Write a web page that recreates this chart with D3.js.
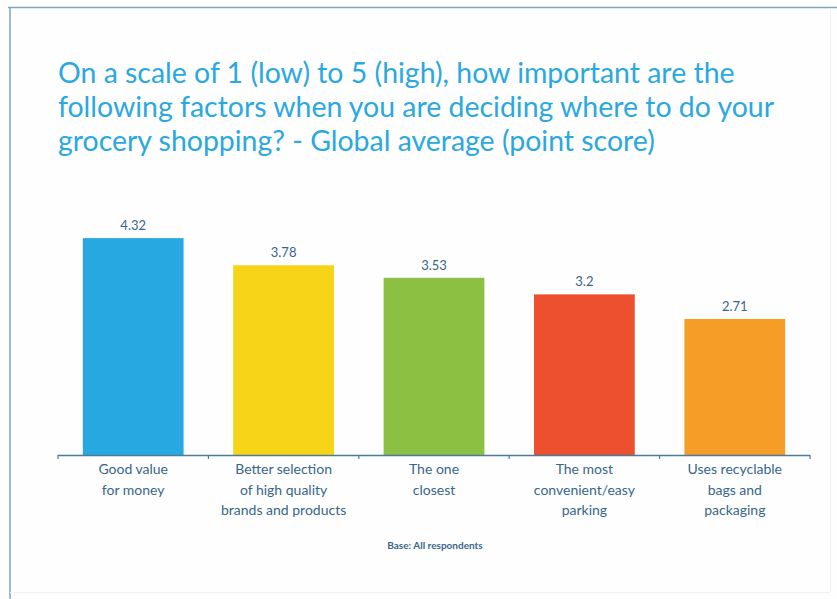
<!DOCTYPE html>
<html><head><meta charset="utf-8">
<script src="https://cdn.jsdelivr.net/npm/d3@7"></script>
<style>body{margin:0;background:#fff}svg{display:block}</style>
</head><body>
<script>
const categories = [
  ["Good value","for money"],
  ["Better selection","of high quality","brands and products"],
  ["The one","closest"],
  ["The most","convenient/easy","parking"],
  ["Uses recyclable","bags and","packaging"]
];
const values = [4.32, 3.78, 3.53, 3.2, 2.71];
const valueLabels = ["4.32","3.78","3.53","3.2","2.71"];
const colors = ["#27a8e0","#f7d417","#8bc043","#ec502e","#f59d27"];
const titleLines = [
  "On a scale of 1 (low) to 5 (high), how important are the",
  "following factors when you are deciding where to do your",
  "grocery shopping? - Global average (point score)"
];
const baseNote = "Base: All respondents";

const W = 837, H = 599;
const svg = d3.select("body").append("svg").attr("width", W).attr("height", H);
svg.append("rect").attr("width", W).attr("height", H).attr("fill", "#fffefe");

// frame
svg.append("line").attr("x1",8).attr("x2",W).attr("y1",7.5).attr("y2",7.5).attr("stroke","#7da6c3").attr("stroke-width",1.5);
svg.append("line").attr("x1",10).attr("x2",10).attr("y1",7).attr("y2",H).attr("stroke","#7da6c3").attr("stroke-width",1.5);
svg.append("line").attr("x1",830.5).attr("x2",830.5).attr("y1",8).attr("y2",592).attr("stroke","#f6f0ee").attr("stroke-width",1);
svg.append("line").attr("x1",10).attr("x2",830).attr("y1",592.5).attr("y2",592.5).attr("stroke","#f6f0ee").attr("stroke-width",1);

// title
const title = svg.append("text").attr("fill","#2aa8e0").attr("font-family","Lato, 'Open Sans', sans-serif").attr("font-size",27);
titleLines.forEach((t,i)=>{
  title.append("tspan").attr("x",58).attr("y",83 + i*34).text(t);
});
const firstLen = title.select("tspan").node().getComputedTextLength();
title.attr("font-size", 27 * 677 / firstLen);

const x = d3.scaleBand().domain(d3.range(values.length)).range([58, 810]).paddingInner(0.33).paddingOuter(0.165);
const y = d3.scaleLinear().domain([0, 5]).range([455, 204]);

svg.selectAll("rect.bar").data(values).join("rect").attr("class","bar")
  .attr("x",(d,i)=>x(i)).attr("width",x.bandwidth())
  .attr("y",d=>y(d)).attr("height",d=>y(0)-y(d))
  .attr("fill",(d,i)=>colors[i]);

svg.selectAll("text.val").data(values).join("text").attr("class","val")
  .attr("x",(d,i)=>x(i)+x.bandwidth()/2).attr("y",d=>y(d)-8)
  .attr("text-anchor","middle").attr("font-family","Lato, sans-serif").attr("font-size",13)
  .attr("fill","#36668a").text((d,i)=>valueLabels[i]);

// axis
const axisG = svg.append("g").attr("transform",`translate(0,${y(0)})`);
const tickX = d3.range(values.length+1).map(i => 58 + i*(752/values.length));
axisG.append("line").attr("x1",58).attr("x2",810).attr("y1",0.5).attr("y2",0.5).attr("stroke","#4b7b9b").attr("stroke-width",1.5);
axisG.selectAll("line.tk").data(tickX).join("line").attr("class","tk")
  .attr("x1",d=>d).attr("x2",d=>d).attr("y1",0).attr("y2",4).attr("stroke","#4b7b9b").attr("stroke-width",1.2);

svg.selectAll("text.cat").data(categories).join("text").attr("class","cat")
  .attr("text-anchor","middle").attr("font-family","Lato, sans-serif").attr("font-size",14).attr("fill","#36668a")
  .each(function(lines,i){
    const t = d3.select(this);
    lines.forEach((l,j)=>{
      t.append("tspan").attr("x",x(i)+x.bandwidth()/2).attr("y",474 + j*20.5).text(l);
    });
  });

svg.append("text").attr("x",435).attr("y",549).attr("text-anchor","middle")
  .attr("font-family","Lato, sans-serif").attr("font-size",10).attr("font-weight","bold").attr("fill","#36668a").text(baseNote);
</script>
</body></html>
